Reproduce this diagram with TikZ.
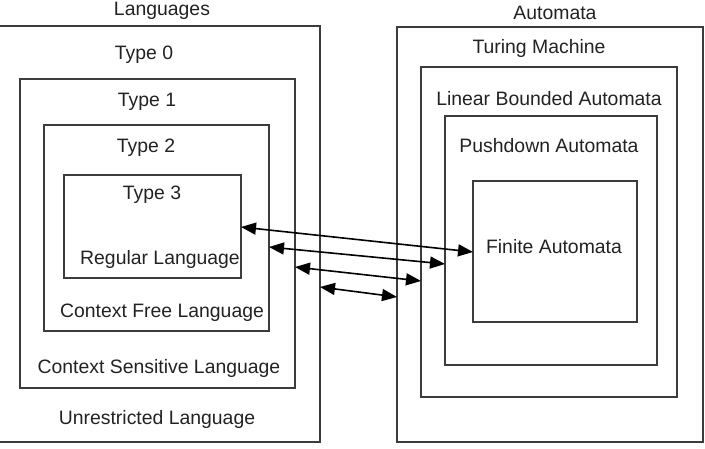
\documentclass[tikz,border=0pt]{standalone}
\usepackage{fontspec}
\setmainfont{Liberation Sans}
\usetikzlibrary{arrows.meta}
\definecolor{boxline}{HTML}{3C3C3C}
\definecolor{txt}{HTML}{222222}
\tikzset{
  box/.style={draw=boxline, line width=1.5pt, inner sep=0pt, outer sep=0pt, anchor=north west},
  lbl/.style={text=txt, inner sep=0pt, font=\fontsize{19.4}{21}\selectfont},
  link/.style={line width=1.6pt, {Triangle[length=15pt,width=12pt]}-{Triangle[length=15pt,width=12pt]}}
}
\begin{document}
\begin{tikzpicture}[x=1pt,y=1pt]
\useasboundingbox (0,0) rectangle (705,-448);
% Language boxes
\node[box, minimum width=321pt, minimum height=416pt] (t0) at (-1,-26) {};
\node[box, minimum width=275pt, minimum height=309pt] (t1) at (20,-79) {};
\node[box, minimum width=225pt, minimum height=206pt] (t2) at (44,-125) {};
\node[box, minimum width=177pt, minimum height=103pt] (t3) at (64,-175) {};
% Automata boxes
\node[box, minimum width=306pt, minimum height=415pt] (tm) at (397,-27) {};
\node[box, minimum width=256pt, minimum height=330pt] (lba) at (421,-67) {};
\node[box, minimum width=212pt, minimum height=249pt] (pda) at (445,-116) {};
\node[box, minimum width=164pt, minimum height=141pt] (fa) at (473,-181) {};
% Labels
\node[lbl] (languages) at (162,-11) {Languages};
\node[lbl] (type0) at (144,-55) {Type 0};
\node[lbl] (type1) at (147,-102) {Type 1};
\node[lbl] (type2) at (146,-148) {Type 2};
\node[lbl] (type3) at (152,-195) {Type 3};
\node[lbl] (reg) at (160,-259) {Regular Language};
\node[lbl] (cfl) at (162,-313) {Context Free Language};
\node[lbl] (csl) at (159,-368) {Context Sensitive Language};
\node[lbl] (url) at (157,-419) {Unrestricted Language};
\node[lbl] (automata) at (555,-13) {Automata};
\node[lbl] (turing) at (539,-48) {Turing Machine};
\node[lbl] (lbalbl) at (549,-99) {Linear Bounded Automata};
\node[lbl] (pdalbl) at (549,-146) {Pushdown Automata};
\node[lbl] (falbl) at (554,-247) {Finite Automata};
% Connectors
\draw[link] ([yshift=-52pt]t3.north east) -- ([yshift=-71pt]fa.north west);
\draw[link] ([yshift=-122pt]t2.north east) -- ([yshift=-148pt]pda.north west);
\draw[link] ([yshift=-188pt]t1.north east) -- ([yshift=-214pt]lba.north west);
\draw[link] ([yshift=-261pt]t0.north east) -- ([yshift=-270pt]tm.north west);
\end{tikzpicture}
\end{document}
